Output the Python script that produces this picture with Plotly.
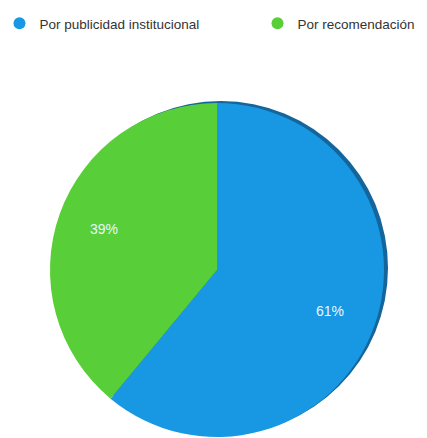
import math
import plotly.graph_objects as go

categories = ["Por publicidad institucional", "Por recomendación"]
values = [61, 39]
colors = ["#1898E3", "#58CF38"]

W, H = 427, 438
OFF = 8                          # page body margin offset
CX, CY = 217 - OFF, 270 - OFF    # pie centre in figure pixels
R = 167                          # pie radius in pixels

fig = go.Figure()

# dark rim (3D edge effect), drawn below the pie
fig.add_shape(
    type="circle", xref="paper", yref="paper", layer="below",
    x0=(CX - R + 4) / W, x1=(CX + R + 4) / W,
    y0=1 - (CY + R - 2) / H, y1=1 - (CY - R - 2) / H,
    fillcolor="#14659C", line=dict(width=0),
)

fig.add_trace(go.Pie(
    labels=categories,
    values=values,
    sort=False,
    direction="clockwise",
    rotation=0,
    marker=dict(colors=colors, line=dict(color="rgba(0,0,0,0)", width=0)),
    textinfo="none",
    showlegend=False,
    hoverinfo="label+percent",
    domain=dict(x=[(CX - R) / W, (CX + R) / W],
                y=[1 - (CY + R) / H, 1 - (CY - R) / H]),
))

# percentage labels placed along each slice's mid-angle
total = sum(values)
start = 0.0
for v in values:
    frac = v / total
    mid = (start + frac / 2) * 2 * math.pi
    start += frac
    px = CX + 0.72 * R * math.sin(mid)
    py = CY - 0.72 * R * math.cos(mid)
    fig.add_annotation(
        x=px / W, y=1 - py / H, xref="paper", yref="paper",
        xanchor="center", yanchor="middle",
        text=f"{round(frac * 100)}%", showarrow=False,
        font=dict(color="#E8F6FF", size=14, family="Liberation Sans, Arial"),
    )

legend_ids = ["legend", "legend2"]
for name, col, lid in zip(categories, colors, legend_ids):
    fig.add_trace(go.Scatter(
        x=[None], y=[None], mode="markers", name=name, legend=lid,
        marker=dict(symbol="circle", size=12, color=col),
    ))

legend_font = dict(family="Liberation Sans, Arial", size=13.5, color="#333333")
fig.update_layout(
    width=W, height=H,
    margin=dict(l=0, r=0, t=0, b=0, autoexpand=False),
    paper_bgcolor="white",
    plot_bgcolor="white",
    xaxis=dict(visible=False),
    yaxis=dict(visible=False),
    legend=dict(x=(20 - OFF - 20.5) / W, y=1, xanchor="left", yanchor="top",
                font=legend_font, bgcolor="rgba(0,0,0,0)"),
    legend2=dict(x=(278 - OFF - 20.5) / W, y=1, xanchor="left", yanchor="top",
                 font=legend_font, bgcolor="rgba(0,0,0,0)"),
    font=dict(family="Liberation Sans, Arial"),
)

fig.write_html("out.html")
